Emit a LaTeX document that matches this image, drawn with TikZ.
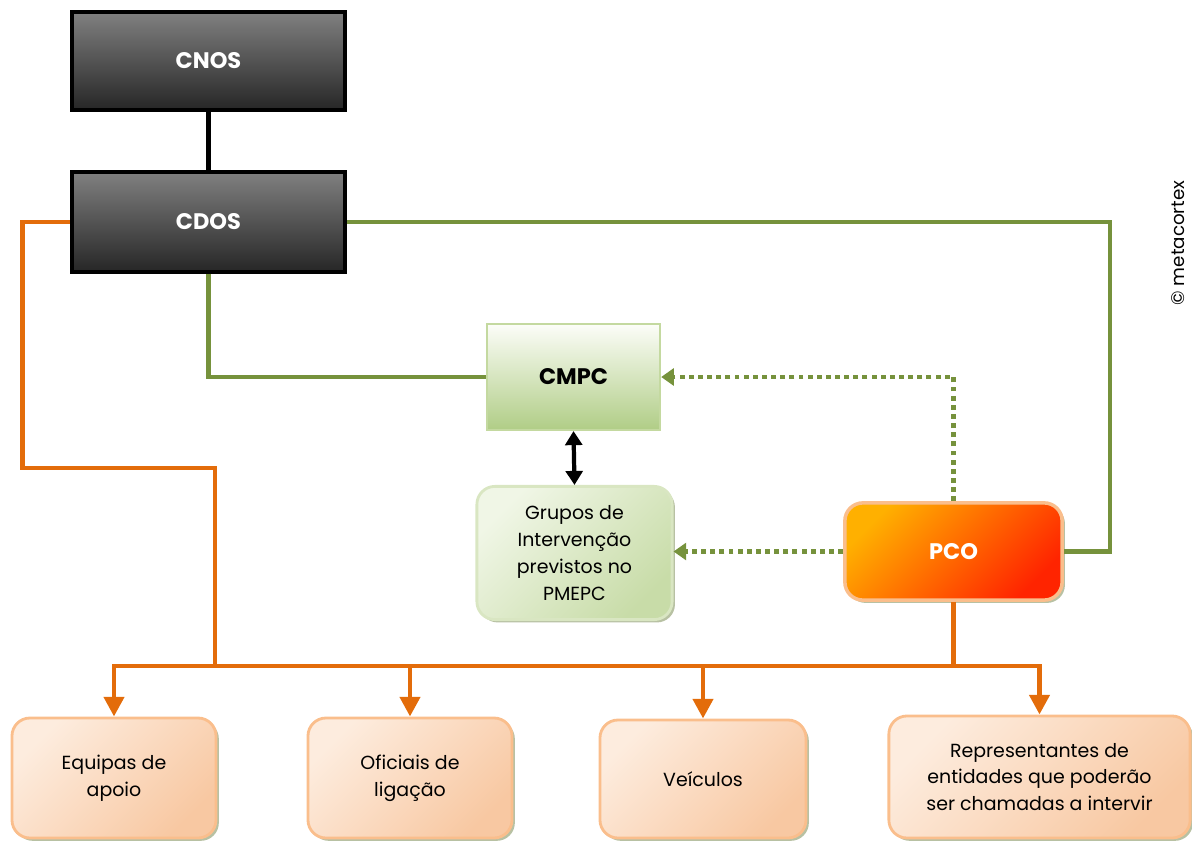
\documentclass[tikz,border=0pt]{standalone}
\usepackage{fontspec}
\setmainfont{Poppins}
\usetikzlibrary{arrows.meta,shadows,positioning}
\definecolor{chainorange}{RGB}{227,108,10}
\definecolor{chaingreen}{RGB}{118,146,60}
\definecolor{darktop}{RGB}{128,128,128}
\definecolor{darkbottom}{RGB}{38,38,38}
\definecolor{cmpctop}{RGB}{252,253,248}
\definecolor{cmpcbottom}{RGB}{176,205,134}
\definecolor{cmpcborder}{RGB}{196,217,160}
\definecolor{greentop}{RGB}{240,246,230}
\definecolor{greenbottom}{RGB}{200,220,168}
\definecolor{pcotop}{RGB}{255,176,0}
\definecolor{pcomid}{RGB}{255,140,0}
\definecolor{pcobottom}{RGB}{255,36,0}
\definecolor{peachborder}{RGB}{250,190,140}
\definecolor{peachtop}{RGB}{253,236,222}
\definecolor{peachbottom}{RGB}{248,200,162}
\definecolor{shadowgreen}{RGB}{166,178,140}

\begin{document}
\begin{tikzpicture}[x=0.025cm, y=-0.025cm]
    \tikzstyle{darkbox} = [draw=black, line width=2.8pt, top color=darktop, bottom color=darkbottom,
        text=white, font=\fontsize{16}{19}\selectfont\bfseries, minimum width=6.83cm, minimum height=2.45cm]
    \tikzstyle{softbox} = [rounded corners=0.45cm, line width=2pt, align=center,
        font=\fontsize{13.5}{19}\selectfont, drop shadow={shadow xshift=2pt, shadow yshift=-2pt, fill=shadowgreen, opacity=0.8}]
    \tikzstyle{peachbox} = [softbox, draw=peachborder, shading=axis, top color=peachtop, bottom color=peachbottom,
        shading angle=45, minimum width=5.1cm, minimum height=3cm]
    \tikzstyle{orangeline} = [chainorange, line width=3.5pt]
    \tikzstyle{greenline} = [chaingreen, line width=3pt]
    \tikzstyle{dotline} = [chaingreen, line width=3.5pt, dash pattern=on 3.5pt off 3pt,
        -{Triangle[width=12pt,length=9pt]}]
    \useasboundingbox (0,0) rectangle (1192,842);

    % command chain
    \node[darkbox] (cnos) at (208.5, 61) {CNOS};
    \node[darkbox, minimum height=2.5cm] (cdos) at (208.5, 222) {CDOS};
    \node[draw=cmpcborder, line width=1.5pt, top color=cmpctop, bottom color=cmpcbottom,
        font=\fontsize{16}{19}\selectfont\bfseries, minimum width=4.33cm, minimum height=2.65cm]
        (cmpc) at (573.5, 377) {CMPC};
    \node[softbox, draw=greenbottom!70!white, shading=axis, top color=greentop, bottom color=greenbottom,
        shading angle=45, minimum width=4.88cm, minimum height=3.33cm]
        (grupos) at (574.5, 553) {Grupos de\\Intervenção\\previstos no\\PMEPC};
    \node[softbox, draw=peachborder, line width=2.5pt, shading=axis, top color=pcotop, middle color=pcomid,
        bottom color=pcobottom, shading angle=45, text=white, font=\fontsize{16}{19}\selectfont\bfseries,
        minimum width=5.43cm, minimum height=2.43cm] (pco) at (953.5, 551.5) {PCO};

    % bottom row
    \node[peachbox] (equipas) at (114, 778) {Equipas de\\apoio};
    \node[peachbox] (oficiais) at (410, 778) {Oficiais de\\ligação};
    \node[peachbox, minimum width=5.15cm, minimum height=2.95cm] (veiculos) at (703, 779) {Veículos};
    \node[peachbox, minimum width=7.53cm, minimum height=3.05cm] (repres) at (1039.5, 777)
        {Representantes de\\entidades que poderão\\ser chamadas a intervir};

    \node[rotate=90, anchor=south, inner sep=0pt, font=\fontsize{13}{15}\selectfont] (copy) at (1185, 243)
        {© metacortex};

    \coordinate (bus) at (215, 666);
    \coordinate (gr) at (1110, 0);

    \draw[line width=3.5pt] (cnos.south) -- (cdos.north);

    \draw[orangeline] (cdos.west) -- ++(-47, 0) |- (215, 468) -- (bus);
    \draw[orangeline, line cap=rect] (equipas.north |- bus) -- (repres.north |- bus);
    \draw[orangeline] (pco.south) -- (pco.south |- bus);
    \foreach \target in {equipas, oficiais, veiculos, repres}
        \draw[orangeline, -{Triangle[width=14pt,length=14pt]}] (\target.north |- bus) -- (\target.north);

    \draw[greenline] (cdos.east) -- (cdos.east -| gr) |- (pco.east);
    \draw[greenline] (cdos.south) |- (cmpc.west);

    \draw[dotline] (pco.north) |- (cmpc.east);
    \draw[dotline] (pco.west) -- (grupos.east |- pco.west);

    \draw[line width=3pt, {Triangle[width=12pt,length=10pt]}-{Triangle[width=12pt,length=10pt]}]
        (cmpc.south) -- (grupos.north);
\end{tikzpicture}
\end{document}
